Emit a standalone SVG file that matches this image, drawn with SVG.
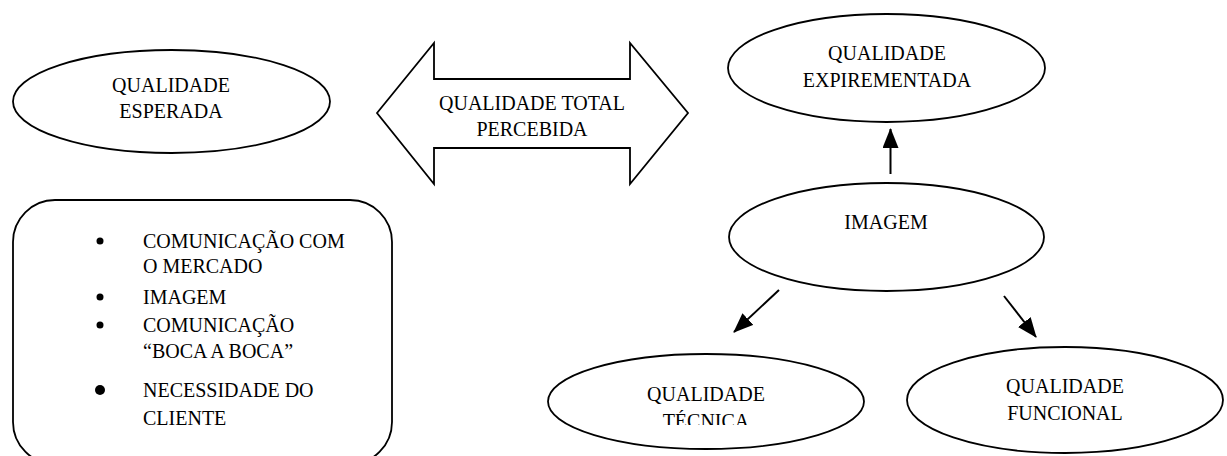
<svg xmlns="http://www.w3.org/2000/svg" width="1227" height="456" viewBox="0 0 1227 456">
<style>
.shape{fill:#fff;stroke:#000;stroke-width:1.8}
.t{font-family:"Liberation Serif","Times New Roman",serif;font-size:20px;fill:#000}
.c{text-anchor:middle}
.conn{stroke:#000;stroke-width:2;fill:none}
</style>
<defs>
<marker id="ahL" viewBox="0 0 20 16" refX="19" refY="8" markerWidth="20" markerHeight="16" markerUnits="userSpaceOnUse" orient="auto">
<path d="M0,0 L20,8 L0,16 Z" fill="#000"/>
</marker>
<clipPath id="clipTec"><rect x="540" y="340" width="330" height="85"/></clipPath>
</defs>
<g id="esperada">
<ellipse class="shape" cx="171.5" cy="101.5" rx="158.5" ry="51.5"/>
<text class="t c" x="171" y="92">QUALIDADE</text>
<text class="t c" x="171" y="118">ESPERADA</text>
</g>
<g id="total">
<polygon class="shape" points="377,113 434,43 434,79 630,79 630,43 688,113 630,184 630,148 434,148 434,184"/>
<text class="t c" x="532" y="110">QUALIDADE TOTAL</text>
<text class="t c" x="532" y="136">PERCEBIDA</text>
</g>
<g id="experimentada">
<ellipse class="shape" cx="886.5" cy="68" rx="158.5" ry="54"/>
<text class="t c" x="887" y="60">QUALIDADE</text>
<text class="t c" x="887" y="87">EXPIREMENTADA</text>
</g>
<g id="lista">
<rect class="shape" x="13" y="200" width="379" height="264" rx="42" ry="42"/>
<circle cx="100" cy="241" r="3.5"/>
<circle cx="100" cy="297" r="3.5"/>
<circle cx="100" cy="325" r="3.5"/>
<circle cx="100" cy="390" r="5"/>
<text class="t" x="143" y="248">COMUNICAÇÃO COM</text>
<text class="t" x="143" y="273">O MERCADO</text>
<text class="t" x="143" y="304">IMAGEM</text>
<text class="t" x="143" y="332">COMUNICAÇÃO</text>
<text class="t" x="143" y="358">“BOCA A BOCA”</text>
<text class="t" x="143" y="397">NECESSIDADE DO</text>
<text class="t" x="143" y="425">CLIENTE</text>
</g>
<g id="imagem">
<ellipse class="shape" cx="886.5" cy="237" rx="157.5" ry="54"/>
<text class="t c" x="886" y="229">IMAGEM</text>
</g>
<g id="tecnica">
<ellipse class="shape" cx="706" cy="401.5" rx="158" ry="47.5"/>
<text class="t c" x="706" y="401">QUALIDADE</text>
<text class="t c" x="706" y="428" clip-path="url(#clipTec)">TÉCNICA</text>
</g>
<g id="funcional">
<ellipse class="shape" cx="1065" cy="400" rx="158" ry="53"/>
<text class="t c" x="1065" y="393">QUALIDADE</text>
<text class="t c" x="1065" y="420">FUNCIONAL</text>
</g>
<g id="connectors">
<line class="conn" x1="890.5" y1="174" x2="890.5" y2="129" marker-end="url(#ahL)"/>
<line class="conn" x1="779" y1="290" x2="734" y2="332" marker-end="url(#ahL)"/>
<line class="conn" x1="1004" y1="296" x2="1036" y2="337" marker-end="url(#ahL)"/>
</g>
</svg>
